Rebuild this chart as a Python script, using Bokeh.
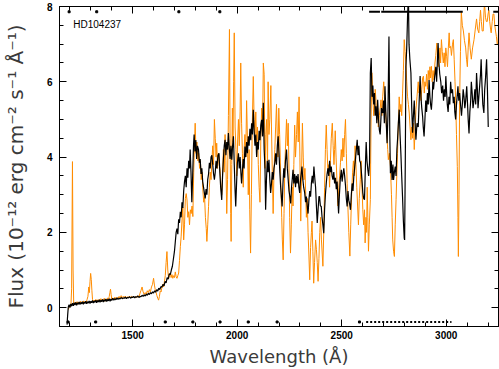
from bokeh.plotting import figure
from bokeh.models import Range1d, SingleIntervalTicker, LinearAxis, Label
from bokeh.embed import file_html
from bokeh.resources import INLINE

# ---------------- data (wavelength [A], flux [1e-12 erg cm-2 s-1 A-1]) ----------------
black_spec = [
    (1186, -0.45), (1189, -0.20), (1192, 0.02), (1196, 0.08), (1200, 0.00), (1204, 0.10), (1208, 0.04),
    (1212, 0.12), (1216, 0.05), (1220, 0.13), (1224, 0.07), (1228, 0.14), (1232, 0.06), (1236, 0.13),
    (1240, 0.09), (1244, 0.15), (1248, 0.08), (1252, 0.14), (1256, 0.10), (1260, 0.16), (1264, 0.09),
    (1268, 0.15), (1272, 0.11), (1276, 0.17), (1280, 0.10), (1284, 0.16), (1288, 0.12), (1292, 0.18),
    (1296, 0.11), (1300, 0.17), (1304, 0.13), (1308, 0.19), (1312, 0.12), (1316, 0.18), (1320, 0.14),
    (1324, 0.20), (1328, 0.13), (1332, 0.19), (1336, 0.15), (1340, 0.21), (1344, 0.14), (1348, 0.20),
    (1352, 0.16), (1356, 0.22), (1360, 0.15), (1364, 0.21), (1368, 0.17), (1372, 0.23), (1376, 0.16),
    (1380, 0.22), (1384, 0.18), (1388, 0.24), (1392, 0.17), (1396, 0.23), (1400, 0.19), (1405, 0.25),
    (1410, 0.20), (1415, 0.24), (1420, 0.21), (1425, 0.26), (1430, 0.22), (1435, 0.25), (1440, 0.23),
    (1445, 0.27), (1450, 0.24), (1455, 0.26), (1460, 0.25), (1465, 0.28), (1470, 0.24), (1475, 0.27),
    (1480, 0.26), (1485, 0.29), (1490, 0.25), (1495, 0.28), (1500, 0.27), (1505, 0.30), (1510, 0.26),
    (1515, 0.29), (1520, 0.28), (1525, 0.31), (1530, 0.27), (1535, 0.30), (1540, 0.29), (1545, 0.33),
    (1550, 0.30), (1555, 0.34), (1560, 0.31), (1565, 0.36), (1570, 0.33), (1575, 0.38), (1580, 0.35),
    (1585, 0.40), (1590, 0.37), (1595, 0.42), (1600, 0.39), (1605, 0.45), (1610, 0.41), (1615, 0.48),
    (1620, 0.44), (1625, 0.52), (1630, 0.48), (1635, 0.56), (1640, 0.54), (1645, 0.62), (1650, 0.58),
    (1655, 0.70), (1660, 0.66), (1665, 0.80), (1670, 0.76), (1675, 0.90), (1680, 0.88), (1685, 1.00),
    (1690, 1.10), (1695, 1.30), (1700, 1.50), (1704, 1.75), (1708, 2.00), (1712, 2.10), (1716, 1.95),
    (1720, 2.35), (1724, 2.25), (1728, 2.55), (1732, 2.40), (1736, 2.80), (1740, 2.65), (1744, 3.10),
    (1748, 3.35), (1752, 3.50), (1756, 3.20), (1760, 3.70), (1764, 3.45), (1768, 3.90), (1772, 3.70),
    (1775, 4.20), (1779, 3.60), (1783, 2.80), (1787, 3.50), (1791, 4.30), (1794, 4.60), (1798, 4.15),
    (1802, 4.45), (1806, 3.95), (1810, 4.30), (1815, 4.20), (1819, 3.85), (1823, 3.95), (1827, 3.55),
    (1831, 3.70), (1835, 3.35), (1839, 3.20), (1843, 3.05), (1847, 2.90), (1851, 3.15), (1855, 3.00),
    (1859, 3.40), (1863, 3.55), (1867, 3.85), (1871, 3.70), (1875, 4.00), (1879, 4.05), (1883, 3.80),
    (1887, 3.55), (1891, 3.40), (1895, 3.60), (1899, 3.90), (1903, 3.70), (1908, 4.05), (1913, 4.10),
    (1917, 3.60), (1921, 3.20), (1926, 2.86), (1930, 3.50), (1934, 3.95), (1938, 4.30), (1942, 4.46),
    (1946, 4.05), (1950, 4.40), (1954, 4.20), (1958, 4.64), (1962, 4.25), (1966, 3.95), (1970, 4.30),
    (1974, 3.93), (1978, 4.30), (1982, 4.55), (1986, 3.80), (1990, 3.10), (1993, 2.69), (1997, 3.30),
    (2001, 3.85), (2006, 4.10), (2010, 3.70), (2014, 4.00), (2018, 3.55), (2021, 3.30), (2025, 3.65),
    (2029, 3.95), (2033, 3.70), (2037, 4.28), (2041, 4.00), (2045, 4.40), (2049, 4.10), (2053, 4.55),
    (2057, 4.30), (2061, 4.75), (2065, 4.45), (2069, 4.90), (2073, 4.60), (2077, 5.26), (2081, 4.70),
    (2085, 4.30), (2089, 4.60), (2093, 4.00), (2097, 4.40), (2101, 4.20), (2105, 4.70), (2109, 4.45),
    (2113, 4.85), (2117, 4.99), (2121, 4.55), (2125, 5.44), (2129, 4.20), (2133, 3.70), (2136, 2.60),
    (2140, 3.40), (2144, 3.90), (2148, 3.60), (2152, 3.93), (2156, 3.40), (2160, 3.05), (2164, 3.30),
    (2168, 3.60), (2172, 3.40), (2176, 3.70), (2180, 3.85), (2184, 4.10), (2188, 3.80), (2192, 4.30),
    (2196, 4.55), (2200, 4.10), (2204, 3.60), (2208, 3.20), (2212, 2.90), (2215, 2.69), (2219, 3.30),
    (2223, 3.70), (2227, 3.45), (2231, 3.90), (2236, 4.20), (2240, 3.70), (2244, 3.40), (2248, 3.10),
    (2252, 2.95), (2256, 2.77), (2260, 3.20), (2264, 3.45), (2267, 3.66), (2271, 3.30), (2275, 3.55),
    (2279, 3.20), (2283, 3.50), (2287, 3.30), (2291, 3.55), (2295, 3.20), (2299, 3.05), (2303, 3.40),
    (2306, 3.55), (2310, 3.75), (2314, 3.40), (2318, 3.20), (2323, 3.05), (2327, 2.80), (2331, 2.95),
    (2335, 2.70), (2339, 2.50), (2343, 2.85), (2347, 3.10), (2351, 2.95), (2355, 3.30), (2359, 3.50),
    (2363, 3.30), (2367, 3.75), (2371, 3.45), (2375, 3.20), (2379, 2.70), (2383, 2.25), (2387, 2.60),
    (2391, 2.95), (2394, 2.95), (2398, 2.70), (2402, 2.69), (2406, 2.40), (2410, 2.20), (2414, 1.98),
    (2418, 2.60), (2422, 3.00), (2426, 3.30), (2430, 3.55), (2434, 3.70), (2438, 3.50), (2442, 3.90),
    (2446, 3.60), (2450, 3.75), (2454, 3.50), (2458, 3.40), (2462, 3.60), (2466, 3.30), (2470, 3.45),
    (2474, 3.15), (2478, 3.35), (2482, 2.85), (2485, 2.50), (2489, 3.00), (2493, 3.40), (2498, 3.66),
    (2502, 3.35), (2506, 3.55), (2510, 3.70), (2514, 3.50), (2518, 3.25), (2522, 2.90), (2526, 2.69),
    (2530, 3.10), (2534, 2.85), (2538, 2.75), (2542, 2.60), (2546, 3.00), (2550, 3.30), (2554, 3.10),
    (2558, 3.50), (2561, 3.66), (2565, 3.90), (2570, 4.20), (2574, 4.46), (2578, 4.05), (2582, 4.30),
    (2586, 3.90), (2590, 3.85), (2594, 3.60), (2598, 3.30), (2601, 3.05), (2605, 2.90), (2609, 2.87),
    (2613, 3.70), (2617, 4.40), (2621, 3.90), (2625, 3.66), (2629, 3.50), (2633, 3.85), (2637, 6.23),
    (2641, 6.63), (2645, 5.60), (2649, 5.90), (2653, 5.40), (2657, 5.70), (2660, 5.10), (2664, 5.35),
    (2668, 4.90), (2672, 5.52), (2676, 5.00), (2680, 4.72), (2684, 4.60), (2690, 5.30), (2696, 5.17),
    (2700, 5.50), (2704, 4.90), (2707, 5.88), (2711, 5.20), (2717, 4.37), (2721, 5.10), (2726, 7.20),
    (2730, 4.60), (2733, 3.57), (2737, 3.90), (2741, 3.39), (2745, 3.80), (2748, 3.39), (2752, 3.60),
    (2756, 3.75), (2760, 3.50), (2764, 4.20), (2767, 4.46), (2771, 4.90), (2775, 5.26), (2779, 4.60),
    (2783, 4.10), (2787, 3.50), (2791, 2.94), (2795, 2.30), (2799, 1.85), (2801, 1.80), (2804, 3.80),
    (2807, 6.40), (2811, 6.90), (2815, 7.74), (2819, 8.30), (2822, 7.00), (2826, 6.60), (2831, 6.24),
    (2835, 5.30), (2839, 4.65), (2843, 5.10), (2847, 5.50), (2851, 4.90), (2855, 4.46), (2860, 4.90),
    (2866, 4.80), (2870, 5.40), (2875, 6.15), (2879, 5.60), (2883, 5.30), (2887, 5.08), (2890, 4.80),
    (2894, 4.55), (2898, 5.00), (2902, 5.50), (2906, 5.20), (2910, 5.70), (2914, 5.40), (2918, 6.05),
    (2922, 5.60), (2925, 5.40), (2929, 5.26), (2933, 5.60), (2936, 6.00), (2939, 5.80), (2944, 6.10),
    (2950, 6.40), (2954, 6.00), (2958, 6.60), (2961, 7.03), (2965, 6.50), (2969, 6.20), (2974, 6.00),
    (2978, 5.70), (2983, 5.90), (2987, 5.50), (2991, 5.80), (2995, 5.60), (2998, 6.15), (3002, 5.70),
    (3005, 5.40), (3009, 5.20), (3013, 5.60), (3017, 5.40), (3021, 6.00), (3025, 5.70), (3030, 5.80),
    (3034, 5.43), (3038, 5.60), (3041, 5.20), (3045, 5.00), (3049, 5.40), (3052, 5.60), (3056, 5.88),
    (3060, 5.50), (3064, 5.70), (3069, 5.35), (3073, 5.10), (3077, 5.40), (3081, 5.80), (3085, 5.60),
    (3089, 5.30), (3093, 5.50), (3098, 5.88), (3102, 5.40), (3105, 5.00), (3109, 4.63), (3113, 5.20),
    (3117, 5.50), (3120, 6.00), (3124, 5.70), (3128, 5.30), (3133, 5.52), (3137, 5.80), (3141, 5.40),
    (3145, 6.23), (3149, 5.80), (3152, 5.30), (3156, 5.60), (3160, 5.90), (3164, 6.20), (3167, 6.60),
    (3171, 5.90), (3175, 5.40), (3180, 5.17), (3184, 5.80), (3188, 6.10), (3193, 6.60), (3197, 5.80),
    (3201, 4.80),
]

orange_spec = [
    (1193, -0.05), (1197, 0.06), (1201, 0.02), (1205, 0.10), (1208, 0.50), (1212, 3.88), (1215, 1.00),
    (1218, 0.12), (1222, 0.08), (1226, 0.15), (1230, 0.10), (1234, 0.16), (1238, 0.09), (1242, 0.15),
    (1246, 0.11), (1250, 0.17), (1254, 0.12), (1258, 0.16), (1262, 0.11), (1266, 0.18), (1270, 0.13),
    (1274, 0.17), (1278, 0.14), (1282, 0.22), (1286, 0.30), (1290, 0.55), (1293, 0.40), (1296, 0.70),
    (1299, 0.91), (1302, 0.75), (1305, 0.45), (1308, 0.22), (1312, 0.15), (1316, 0.20), (1320, 0.16),
    (1324, 0.22), (1328, 0.17), (1332, 0.21), (1336, 0.16), (1340, 0.22), (1344, 0.18), (1348, 0.24),
    (1352, 0.17), (1356, 0.22), (1360, 0.18), (1364, 0.25), (1368, 0.17), (1372, 0.23), (1376, 0.19),
    (1380, 0.26), (1384, 0.20), (1388, 0.30), (1391, 0.40), (1394, 0.49), (1397, 0.35), (1400, 0.22),
    (1405, 0.26), (1410, 0.21), (1415, 0.28), (1420, 0.23), (1425, 0.27), (1430, 0.24), (1435, 0.30),
    (1440, 0.25), (1445, 0.32), (1450, 0.26), (1455, 0.30), (1460, 0.27), (1465, 0.31), (1470, 0.25),
    (1475, 0.29), (1480, 0.27), (1485, 0.31), (1490, 0.26), (1495, 0.30), (1500, 0.28), (1505, 0.29),
    (1510, 0.26), (1515, 0.30), (1520, 0.27), (1525, 0.32), (1530, 0.28), (1535, 0.38), (1540, 0.46),
    (1545, 0.55), (1550, 0.42), (1555, 0.35), (1560, 0.40), (1565, 0.36), (1570, 0.45), (1575, 0.40),
    (1580, 0.48), (1585, 0.42), (1590, 0.55), (1595, 0.62), (1600, 0.78), (1604, 0.60), (1608, 0.48),
    (1612, 0.40), (1616, 0.32), (1620, 0.25), (1624, 0.20), (1628, 0.30), (1632, 0.45), (1636, 0.42),
    (1640, 0.55), (1644, 0.62), (1648, 0.55), (1652, 0.70), (1656, 0.85), (1660, 1.20), (1664, 1.49),
    (1668, 1.00), (1672, 0.77), (1676, 0.85), (1680, 0.92), (1684, 0.80), (1688, 0.88), (1692, 0.78),
    (1696, 0.85), (1700, 0.80), (1704, 0.95), (1708, 0.82), (1712, 0.78), (1716, 0.85), (1720, 0.92),
    (1724, 1.25), (1728, 1.62), (1732, 1.90), (1736, 2.33), (1740, 2.67), (1744, 1.80), (1748, 2.20),
    (1752, 2.90), (1756, 3.03), (1760, 2.86), (1764, 2.40), (1768, 2.55), (1772, 2.20), (1776, 2.60),
    (1780, 2.50), (1784, 2.70), (1788, 2.42), (1792, 3.60), (1796, 4.40), (1799, 4.90), (1803, 4.10),
    (1807, 4.40), (1812, 3.90), (1816, 4.10), (1820, 3.70), (1824, 3.90), (1828, 3.40), (1832, 3.60),
    (1836, 3.10), (1840, 2.80), (1844, 2.95), (1848, 2.40), (1852, 2.10), (1855, 1.76), (1859, 2.20),
    (1863, 2.69), (1867, 3.20), (1871, 3.60), (1875, 3.40), (1879, 3.90), (1883, 4.30), (1887, 3.80),
    (1891, 5.00), (1895, 4.50), (1899, 4.00), (1902, 4.37), (1906, 3.70), (1910, 4.10), (1914, 3.80),
    (1918, 3.66), (1922, 3.20), (1926, 3.00), (1930, 3.50), (1934, 4.20), (1938, 3.60), (1942, 4.60),
    (1946, 3.90), (1950, 2.50), (1954, 3.40), (1958, 5.10), (1963, 7.39), (1966, 4.50), (1969, 2.50),
    (1971, 1.76), (1974, 3.80), (1977, 5.30), (1980, 4.40), (1983, 6.00), (1986, 7.30), (1990, 4.80),
    (1994, 4.20), (1998, 3.50), (2002, 4.40), (2006, 5.00), (2010, 4.30), (2014, 5.20), (2017, 6.50),
    (2021, 4.90), (2025, 4.10), (2029, 3.20), (2033, 4.20), (2037, 4.60), (2041, 4.00), (2045, 5.50),
    (2049, 4.50), (2053, 3.00), (2057, 4.20), (2060, 2.60), (2064, 1.45), (2068, 3.00), (2072, 4.80),
    (2077, 6.14), (2081, 5.00), (2085, 4.60), (2089, 5.20), (2093, 4.30), (2097, 4.80), (2101, 3.80),
    (2105, 3.20), (2109, 2.80), (2113, 4.50), (2117, 5.30), (2121, 4.60), (2125, 6.50), (2129, 6.20),
    (2133, 3.70), (2137, 4.60), (2141, 5.00), (2145, 3.70), (2148, 6.00), (2152, 4.60), (2156, 5.00),
    (2161, 5.90), (2164, 4.80), (2168, 3.60), (2172, 2.50), (2176, 3.60), (2180, 4.20), (2184, 4.80),
    (2188, 5.40), (2192, 4.50), (2195, 4.00), (2199, 5.30), (2203, 4.60), (2206, 4.00), (2209, 3.20),
    (2213, 2.40), (2216, 1.80), (2220, 1.27), (2224, 2.50), (2228, 3.80), (2232, 4.40), (2236, 5.00),
    (2240, 4.30), (2244, 4.90), (2248, 3.60), (2251, 2.40), (2255, 1.45), (2259, 2.20), (2263, 3.20),
    (2267, 2.70), (2271, 3.80), (2275, 4.85), (2279, 4.00), (2284, 4.60), (2288, 5.20), (2292, 4.40),
    (2296, 5.60), (2300, 4.00), (2304, 2.30), (2308, 3.60), (2312, 4.90), (2316, 4.00), (2320, 3.40),
    (2324, 3.70), (2328, 3.00), (2331, 2.40), (2335, 2.90), (2339, 2.00), (2343, 1.40), (2347, 0.74),
    (2351, 1.60), (2355, 2.00), (2358, 2.30), (2362, 1.50), (2366, 0.65), (2370, 1.20), (2375, 1.80),
    (2379, 1.55), (2383, 1.20), (2387, 0.70), (2391, 1.30), (2395, 2.00), (2399, 2.40), (2403, 1.80),
    (2407, 1.40), (2410, 1.10), (2414, 2.00), (2418, 3.20), (2422, 4.20), (2426, 4.85), (2430, 4.20),
    (2434, 3.60), (2438, 3.80), (2442, 3.20), (2446, 3.90), (2450, 4.50), (2455, 4.90), (2459, 4.30),
    (2463, 3.80), (2466, 4.20), (2469, 4.70), (2473, 4.00), (2477, 3.40), (2482, 2.70), (2486, 3.20),
    (2490, 3.50), (2494, 3.85), (2498, 4.20), (2502, 3.90), (2506, 4.50), (2510, 4.00), (2514, 4.60),
    (2518, 5.00), (2522, 4.10), (2526, 3.30), (2530, 2.60), (2534, 2.00), (2539, 1.37), (2543, 2.20),
    (2548, 3.10), (2552, 3.60), (2556, 3.90), (2560, 3.50), (2564, 4.30), (2568, 3.80), (2572, 3.20),
    (2576, 2.70), (2580, 2.20), (2584, 2.90), (2589, 3.40), (2593, 3.90), (2597, 3.20), (2601, 2.60),
    (2605, 2.20), (2609, 2.60), (2612, 1.72), (2616, 2.40), (2619, 2.00), (2622, 3.20), (2625, 2.40),
    (2628, 1.50), (2632, 2.20), (2637, 2.87), (2640, 4.80), (2644, 6.24), (2648, 5.70), (2653, 5.10),
    (2657, 5.30), (2660, 5.80), (2664, 5.50), (2668, 5.00), (2672, 5.30), (2675, 4.80), (2680, 5.10),
    (2684, 5.30), (2688, 5.52), (2692, 5.10), (2696, 5.60), (2701, 6.00), (2705, 5.60), (2708, 5.40),
    (2712, 5.00), (2716, 4.60), (2720, 4.20), (2723, 3.93), (2728, 4.10), (2733, 3.75), (2738, 3.00),
    (2741, 2.40), (2744, 1.80), (2748, 1.50), (2752, 1.36), (2756, 2.20), (2760, 2.87), (2764, 3.60),
    (2767, 4.10), (2771, 4.90), (2775, 5.60), (2779, 5.20), (2783, 5.40), (2787, 5.10), (2791, 5.70),
    (2795, 6.30), (2799, 7.12), (2803, 6.80), (2807, 6.50), (2811, 6.00), (2815, 5.60), (2819, 5.40),
    (2823, 5.17), (2827, 4.80), (2831, 4.46), (2835, 4.80), (2839, 4.50), (2843, 4.90), (2847, 4.20),
    (2851, 4.70), (2855, 5.26), (2860, 5.60), (2866, 6.00), (2870, 5.70), (2875, 5.90), (2879, 5.50),
    (2883, 5.80), (2887, 6.10), (2891, 6.15), (2895, 5.70), (2898, 6.00), (2902, 5.88), (2906, 6.20),
    (2910, 5.80), (2914, 6.30), (2918, 6.05), (2922, 6.40), (2925, 6.10), (2929, 6.41), (2933, 6.00),
    (2937, 6.30), (2942, 6.05), (2946, 6.50), (2950, 6.70), (2955, 7.03), (2959, 6.70), (2962, 6.40),
    (2966, 6.60), (2970, 6.90), (2973, 6.50), (2977, 7.12), (2981, 6.80), (2986, 6.50), (2990, 6.77),
    (2994, 6.40), (2998, 6.90), (3002, 6.68), (3006, 6.40), (3010, 6.90), (3014, 7.30), (3017, 6.90),
    (3021, 6.94), (3025, 6.70), (3030, 7.00), (3034, 7.12), (3038, 6.60), (3042, 6.00), (3045, 5.50),
    (3049, 4.60), (3053, 3.75), (3056, 2.40), (3058, 1.36), (3061, 3.00), (3064, 5.50), (3068, 6.80),
    (3072, 7.86), (3077, 7.50), (3082, 7.35), (3087, 7.10), (3093, 6.90), (3097, 6.60), (3101, 6.40),
    (3105, 6.90), (3109, 7.30), (3114, 6.90), (3120, 6.60), (3126, 6.90), (3133, 7.12), (3139, 7.40),
    (3145, 7.67), (3150, 7.40), (3156, 7.30), (3160, 7.60), (3164, 7.90), (3168, 7.60), (3172, 7.35),
    (3177, 7.35), (3180, 7.80), (3183, 8.10), (3188, 7.70), (3192, 7.60), (3196, 7.60), (3200, 7.80),
    (3204, 7.90), (3208, 7.60), (3212, 7.40), (3215, 7.30), (3220, 7.60), (3224, 7.80), (3228, 7.80),
    (3232, 7.50), (3236, 7.35), (3240, 7.20), (3244, 7.00), (3247, 7.00), (3251, 7.40), (3255, 7.60),
]

black_wave = [w for w, f in black_spec]
black_flux = [f for w, f in black_spec]
orange_wave = [w for w, f in orange_spec]
orange_flux = [f for w, f in orange_spec]

# quality-flag marks
bottom_flag_wave = [1191, 1323, 1656, 1788, 1918, 2053, 2191, 2585]
bottom_flag_level = -0.38
bottom_flag_start = [2617]
bottom_flag_end = [3025]
top_flag_wave = [1196, 1328, 1721, 1917]
top_flag_level = 7.86
top_bar_start = [2631, 2689, 3225]
top_bar_end = [2683, 3079, 3250]

star_name = "HD104237"
x_label = "Wavelength (Å)"
y_label = "Flux (10⁻¹² erg cm⁻² s⁻¹ Å⁻¹)"
x_ticks_interval = 500
y_ticks_interval = 2

# ---------------- figure ----------------
p = figure(width=499, height=369, output_backend="svg", toolbar_location=None,
           x_range=Range1d(1150, 3250), y_range=Range1d(-0.5, 8),
           min_border_left=57, min_border_right=1, min_border_top=6, min_border_bottom=42)
p.background_fill_color = "white"
p.border_fill_color = "white"
p.outline_line_color = "black"
p.outline_line_width = 1
p.grid.visible = False

p.line(orange_wave, orange_flux, line_color="#ff8c00", line_width=1.0)
p.line(black_wave, black_flux, line_color="black", line_width=1.2)

p.scatter(bottom_flag_wave, [bottom_flag_level] * len(bottom_flag_wave), marker="square",
          size=2, color="black")
p.segment(x0=bottom_flag_start, y0=[bottom_flag_level] * len(bottom_flag_start),
          x1=bottom_flag_end, y1=[bottom_flag_level] * len(bottom_flag_end),
          line_color="black", line_width=2, line_dash="2 2")
p.scatter(top_flag_wave, [top_flag_level] * len(top_flag_wave), marker="square",
          size=2, color="black")
p.segment(x0=top_bar_start, y0=[top_flag_level] * len(top_bar_start),
          x1=top_bar_end, y1=[top_flag_level] * len(top_bar_end),
          line_color="black", line_width=2)

p.add_layout(Label(x=1216, y=7.52, text=star_name, text_font="Liberation Sans",
                   text_font_size="10px", text_baseline="middle", text_color="black"))

def style_axis(ax, ticker, labels=True):
    ax.ticker = ticker
    ax.axis_line_color = "black"
    ax.major_tick_in = 7
    ax.major_tick_out = 0
    ax.minor_tick_in = 4
    ax.minor_tick_out = 0
    ax.major_tick_line_color = "black"
    ax.minor_tick_line_color = "black"
    if labels:
        ax.major_label_text_font = "Liberation Sans"
        ax.major_label_text_font_size = "10px"
        ax.major_label_text_font_style = "bold"
        ax.major_label_text_color = "black"
    else:
        ax.major_label_text_font_size = "0px"
        ax.major_label_text_color = None
        ax.major_label_standoff = 0

xt = SingleIntervalTicker(interval=x_ticks_interval, num_minor_ticks=5)
yt = SingleIntervalTicker(interval=y_ticks_interval, num_minor_ticks=4)

style_axis(p.xaxis[0], xt)
p.xaxis[0].major_label_standoff = 4
p.xaxis[0].axis_label = x_label
p.xaxis[0].axis_label_text_font = "DejaVu Sans"
p.xaxis[0].axis_label_text_font_size = "18px"
p.xaxis[0].axis_label_text_font_style = "normal"
p.xaxis[0].axis_label_text_color = "#3a3a3a"
p.xaxis[0].axis_label_standoff = 4

style_axis(p.yaxis[0], yt)
p.yaxis[0].major_label_standoff = 7
p.yaxis[0].axis_label = y_label
p.yaxis[0].axis_label_text_font = "DejaVu Sans"
p.yaxis[0].axis_label_text_font_size = "20px"
p.yaxis[0].axis_label_text_font_style = "normal"
p.yaxis[0].axis_label_text_color = "#3a3a3a"
p.yaxis[0].axis_label_standoff = 16

top_ax = LinearAxis()
style_axis(top_ax, SingleIntervalTicker(interval=x_ticks_interval, num_minor_ticks=5), labels=False)
p.add_layout(top_ax, "above")
right_ax = LinearAxis()
style_axis(right_ax, SingleIntervalTicker(interval=y_ticks_interval, num_minor_ticks=4), labels=False)
p.add_layout(right_ax, "right")

open("out.html", "w").write(file_html(p, INLINE))
